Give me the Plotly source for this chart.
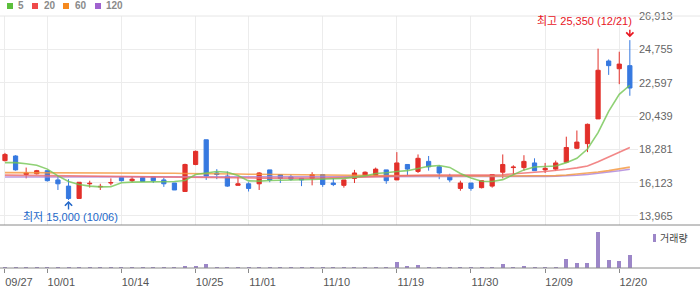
import plotly.graph_objects as go

# ---------------- data ----------------
dates = ["2021-09-27", "2021-09-28", "2021-09-29", "2021-09-30", "2021-10-01",
         "2021-10-05", "2021-10-06", "2021-10-07", "2021-10-08", "2021-10-12",
         "2021-10-13", "2021-10-14", "2021-10-15", "2021-10-18", "2021-10-19",
         "2021-10-20", "2021-10-21", "2021-10-22", "2021-10-25", "2021-10-26",
         "2021-10-27", "2021-10-28", "2021-10-29", "2021-11-01", "2021-11-02",
         "2021-11-03", "2021-11-04", "2021-11-05", "2021-11-08", "2021-11-09",
         "2021-11-10", "2021-11-11", "2021-11-12", "2021-11-15", "2021-11-16",
         "2021-11-17", "2021-11-18", "2021-11-19", "2021-11-22", "2021-11-23",
         "2021-11-24", "2021-11-25", "2021-11-26", "2021-11-29", "2021-11-30",
         "2021-12-01", "2021-12-02", "2021-12-03", "2021-12-06", "2021-12-07",
         "2021-12-08", "2021-12-09", "2021-12-10", "2021-12-13", "2021-12-14",
         "2021-12-15", "2021-12-16", "2021-12-17", "2021-12-20", "2021-12-21"]

opens = [17550, 17850, 16650, 16700, 16900, 16300, 15900, 15100, 16050, 15850,
         16100, 16450, 16250, 16450, 16500, 16300, 16100, 15550, 17300, 18900,
         16750, 16550, 15950, 16050, 16050, 16950, 16650, 16500, 16400, 16400,
         16650, 16100, 15950, 16400, 16600, 16600, 16950, 16300, 17300, 16850,
         17500, 17150, 16550, 15750, 16100, 15800, 15900, 16800, 17100, 17100,
         17400, 16950, 17000, 17450, 18350, 18650, 20250, 24000, 23500, 23700]
highs = [18050, 17900, 17100, 16950, 16900, 16550, 16350, 16150, 16250, 16050,
         16400, 16500, 16500, 16500, 16500, 16450, 16100, 17350, 18200, 18900,
         17000, 16850, 16500, 16150, 16800, 16950, 16650, 16650, 16400, 16800,
         16650, 16400, 16300, 16950, 16850, 17100, 16950, 18100, 17300, 17950,
         17850, 17250, 16700, 16250, 16100, 16250, 16650, 17950, 17250, 17900,
         17700, 17400, 17550, 19100, 19500, 19950, 24800, 24100, 24600, 25350]
lows = [17500, 16900, 16400, 16650, 16200, 15650, 15000, 15100, 15800, 15650,
        15950, 16200, 16150, 16200, 16100, 15850, 15650, 15550, 17250, 16300,
        16350, 15850, 15950, 15550, 15650, 16150, 16100, 16250, 15900, 15950,
        15850, 15900, 15800, 16100, 16500, 16550, 16050, 16300, 16600, 16750,
        16900, 16350, 16150, 15600, 15600, 15750, 15800, 16400, 16650, 16900,
        16900, 16750, 16900, 17450, 18300, 18100, 20250, 23100, 22500, 21750]
closes = [17950, 16950, 16750, 16900, 16250, 16050, 15100, 16150, 16080, 15880,
          16130, 16250, 16350, 16200, 16250, 16050, 15650, 17300, 18150, 16550,
          16650, 15900, 16050, 15750, 16750, 16300, 16400, 16350, 16300, 16650,
          16000, 16000, 16300, 16750, 16800, 17000, 16250, 17400, 17000, 17700,
          17150, 16750, 16300, 16100, 15750, 16250, 16650, 17300, 17130, 17500,
          16900, 17050, 17400, 18400, 18750, 19900, 23400, 23700, 23800, 22250]
volumes = [1500, 50000, 1200, 1200, 1500, 1500, 45000, 1800, 900, 800,
           800, 800, 800, 800, 800, 800, 1500, 85000, 85000, 185000,
           40000, 40000, 1200, 1500, 40000, 1500, 1200, 900, 900, 1200,
           1200, 900, 900, 1200, 1500, 40000, 40000, 285000, 85000, 135000,
           40000, 40000, 40000, 40000, 40000, 1800, 40000, 185000, 40000, 85000,
           40000, 2000, 1800, 435000, 235000, 235000, 1800000, 400000, 335000, 635000]

ma5 = [17420, 17420, 17350, 17250, 17000, 16560, 16200, 16000, 15900, 15850,
       15860, 16120, 16160, 16160, 16180, 16200, 16200, 16260, 16650, 16750,
       16850, 16800, 16580, 16240, 16220, 16260, 16290, 16300, 16310, 16330,
       16370, 16380, 16400, 16490, 16560, 16720, 16760, 16850, 16900, 17040,
       17180, 17230, 17110, 16720, 16420, 16210, 16200, 16320, 16620, 16950,
       17140, 17180, 17200, 17420, 17700, 18300, 19360, 20740, 21845, 22430]
ma20 = [16610, 16600, 16590, 16580, 16570, 16560, 16550, 16540, 16530, 16520,
        16520, 16510, 16500, 16500, 16490, 16480, 16470, 16460, 16460, 16460,
        16450, 16440, 16430, 16420, 16420, 16420, 16410, 16410, 16410, 16420,
        16420, 16430, 16440, 16460, 16480, 16500, 16530, 16560, 16590, 16610,
        16620, 16620, 16610, 16600, 16600, 16600, 16610, 16640, 16680, 16730,
        16800, 16850, 16900, 16990, 17080, 17200, 17480, 17800, 18080, 18400]
ma60 = [16770, 16770, 16770, 16760, 16760, 16760, 16760, 16750, 16750, 16750,
        16750, 16740, 16740, 16740, 16730, 16730, 16730, 16720, 16720, 16710,
        16700, 16690, 16680, 16670, 16660, 16650, 16640, 16630, 16630, 16620,
        16620, 16610, 16610, 16600, 16600, 16590, 16590, 16580, 16580, 16570,
        16570, 16560, 16560, 16560, 16550, 16550, 16550, 16550, 16550, 16550,
        16550, 16560, 16580, 16620, 16670, 16730, 16810, 16900, 17000, 17130]
ma120 = [16490, 16490, 16490, 16490, 16490, 16490, 16490, 16490, 16490, 16490,
         16490, 16490, 16490, 16490, 16490, 16490, 16490, 16490, 16490, 16490,
         16490, 16500, 16500, 16500, 16500, 16500, 16500, 16500, 16500, 16500,
         16510, 16510, 16510, 16510, 16510, 16510, 16510, 16510, 16520, 16520,
         16520, 16520, 16520, 16520, 16520, 16520, 16530, 16530, 16530, 16530,
         16530, 16530, 16540, 16560, 16600, 16650, 16720, 16800, 16890, 16990]

tick_dates = ["2021-09-27", "2021-10-01", "2021-10-14", "2021-10-25", "2021-11-01",
              "2021-11-10", "2021-11-19", "2021-11-30", "2021-12-09", "2021-12-20"]
tick_labels = ["09/27", "10/01", "10/14", "10/25", "11/01",
               "11/10", "11/19", "11/30", "12/09", "12/20"]
price_ticks = [13965, 16123, 18281, 20439, 22597, 24755, 26913]

ma_names = ["5", "20", "60", "120"]
ma_colors = ["#5cbf3c", "#ef4a4a", "#f5891f", "#a062cf"]
ma_line_colors = ["#74c653", "#f06a6a", "#f5963a", "#ac82da"]

# ---------------- figure ----------------
FONT = "Liberation Sans, Arial, Noto Sans CJK KR, sans-serif"
PLOT_W, PLOT_H, TOP = 638, 252, 16


def px_x(px):
    return px / PLOT_W


def px_y(py):
    return (TOP + PLOT_H - py) / PLOT_H


SPLIT = px_y(225)

fig = go.Figure()

for vals, col in zip([ma120, ma60, ma20, ma5], ma_line_colors[::-1]):
    fig.add_trace(go.Scatter(x=dates, y=vals, mode="lines", xaxis="x2", yaxis="y2",
                             line=dict(color=col, width=1.6), opacity=0.8,
                             hoverinfo="skip"))

fig.add_trace(go.Candlestick(
    x=dates, open=opens, high=highs, low=lows, close=closes,
    xaxis="x2", yaxis="y2",
    increasing=dict(line=dict(color="#e2302a", width=1), fillcolor="#e2302a"),
    decreasing=dict(line=dict(color="#3679e0", width=1), fillcolor="#3679e0"),
    whiskerwidth=0,
))

fig.add_trace(go.Bar(x=dates, y=volumes, xaxis="x", yaxis="y",
                     marker=dict(color="#9c86c8", line=dict(width=0)), width=0.38))

# extremes
hi_i = max(range(len(highs)), key=lambda i: highs[i])
lo_i = min(range(len(lows)), key=lambda i: lows[i])
hi_lbl = dates[hi_i][5:].replace("-", "/")
lo_lbl = dates[lo_i][5:].replace("-", "/")

annotations = [
    dict(x=dates[hi_i], y=highs[hi_i], xref="x2", yref="y2",
         text=f"최고 {highs[hi_i]:,} ({hi_lbl})", showarrow=False,
         xanchor="right", yanchor="middle", xshift=4, yshift=19,
         font=dict(family=FONT, size=11, color="#e8141e")),
    dict(x=dates[hi_i], y=highs[hi_i], xref="x2", yref="y2", text="",
         showarrow=True, ax=0, ay=-12, standoff=3, arrowhead=4, arrowsize=1,
         arrowwidth=1.4, arrowcolor="#e8141e"),
    dict(x=dates[lo_i], y=lows[lo_i], xref="x2", yref="y2",
         text=f"최저 {lows[lo_i]:,} ({lo_lbl})", showarrow=False,
         xanchor="center", yanchor="middle", xshift=1.5, yshift=-17,
         font=dict(family=FONT, size=11, color="#2267c9")),
    dict(x=dates[lo_i], y=lows[lo_i], xref="x2", yref="y2", text="",
         showarrow=True, ax=0, ay=11, standoff=1, arrowhead=4, arrowsize=1,
         arrowwidth=1.4, arrowcolor="#2267c9"),
    dict(x=px_x(658), y=px_y(238), xref="paper", yref="paper", text="거래량",
         showarrow=False, xanchor="left", yanchor="middle",
         font=dict(family=FONT, size=10, color="#444")),
]

shapes = [
    dict(type="line", xref="paper", yref="paper", x0=0, x1=700 / PLOT_W,
         y0=1, y1=1, line=dict(color="#e6e6e6", width=1)),
    dict(type="line", xref="paper", yref="paper", x0=0, x1=700 / PLOT_W,
         y0=SPLIT, y1=SPLIT, line=dict(color="#8a8a8a", width=1)),
    dict(type="line", xref="paper", yref="paper", x0=0, x1=700 / PLOT_W,
         y0=0, y1=0, line=dict(color="#8a8a8a", width=1)),
    dict(type="rect", xref="paper", yref="paper", x0=px_x(653), x1=px_x(656),
         y0=px_y(242), y1=px_y(234), fillcolor="#9c86c8", line=dict(width=0)),
]

leg_sq = [7, 32, 63, 95]
leg_tx = [16, 42, 73, 104]
for name, col, sx, tx in zip(ma_names, ma_colors, leg_sq, leg_tx):
    shapes.append(dict(type="rect", xref="paper", yref="paper",
                       x0=px_x(sx), x1=px_x(sx + 6), y0=px_y(9), y1=px_y(3),
                       fillcolor=col, line=dict(width=0)))
    annotations.append(dict(x=px_x(tx), y=px_y(6), xref="paper", yref="paper",
                            text=f"<b>{name}</b>", showarrow=False,
                            xanchor="left", yanchor="middle",
                            font=dict(family=FONT, size=10, color="#8a8a8a")))

fig.update_layout(
    width=700, height=289,
    margin=dict(l=0, r=700 - PLOT_W, t=TOP, b=289 - TOP - PLOT_H),
    paper_bgcolor="white", plot_bgcolor="white",
    showlegend=False, boxgap=0.43, bargap=0,
    font=dict(family=FONT, size=11, color="#666"),
    xaxis=dict(type="category", range=[-0.47, 59.77], domain=[0, 1], anchor="y",
               tickvals=tick_dates, ticktext=tick_labels, ticks="outside",
               ticklen=4, tickcolor="#8a8a8a", tickwidth=1,
               showgrid=False, showline=False, zeroline=False,
               ticklabelshift=14, tickfont=dict(size=11, color="#555"),
               rangeslider=dict(visible=False)),
    xaxis2=dict(type="category", matches="x", anchor="y2", domain=[0, 1],
                tickvals=tick_dates, showticklabels=False, ticks="",
                showgrid=True, gridcolor="#ececec", gridwidth=1,
                zeroline=False, showline=False,
                rangeslider=dict(visible=False)),
    yaxis=dict(domain=[0, SPLIT], range=[0, 2150000], showticklabels=False,
               showgrid=False, zeroline=False, ticks=""),
    yaxis2=dict(domain=[SPLIT, 1], range=[13382, 26913], side="right",
                anchor="x2", tickvals=price_ticks,
                ticktext=[f"{v:,}" for v in price_ticks],
                showgrid=True, gridcolor="#ececec", gridwidth=1,
                zeroline=False, ticks="", showline=False,
                tickfont=dict(size=11, color="#666")),
    annotations=annotations,
    shapes=shapes,
)

fig.write_html("out.html")
